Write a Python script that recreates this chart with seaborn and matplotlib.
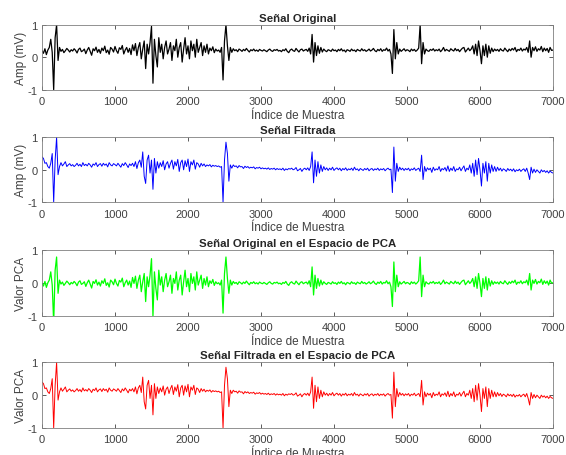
import numpy as np
import pandas as pd
import matplotlib
matplotlib.use("Agg")
import matplotlib.pyplot as plt
import seaborn as sns

# ---- data (one value every 20 samples) ----
sample_step = 20

original = [
    0.2, 0.12, 0.26, 0.08, 0.22, 0.3, 0.55, 0.15, -1.0, 0.6, 1.0,
    -0.1, 0.3, 0.18, 0.24, 0.14, 0.2, 0.27, 0.22, 0.16, 0.23,
    0.19, 0.26, 0.21, 0.13, 0.24, 0.28, 0.17, 0.2, 0.25, 0.11,
    0.22, 0.3, 0.18, 0.06, 0.26, 0.2, 0.31, 0.15, 0.24, 0.12,
    0.28, 0.2, 0.34, 0.14, 0.22, 0.09, 0.3, 0.25, 0.16, 0.33,
    0.2, 0.12, 0.29, 0.24, 0.36, 0.1, 0.22, 0.3, 0.15, 0.27,
    0.08, 0.38, 0.2, 0.42, 0.05, 0.3, 0.45, -0.05, 0.25, 0.5,
    -0.35, 0.4, 0.1, 0.45, 0.95, -0.8, 0.55, 0.05, -0.3, 0.6,
    0.15, 0.4, -0.05, 0.3, 0.5, 0.1, 0.25, 0.45, -0.1, 0.35,
    0.2, 0.55, 0.0, 0.3, 0.45, -0.15, 0.25, 0.6, 0.1, 0.35,
    -0.05, 0.5, 0.2, 0.4, 0.0, 0.55, 0.15, 0.3, 0.45, 0.05,
    0.35, 0.15, 0.4, 0.1, 0.28, 0.2, 0.32, 0.14, 0.25, 0.19,
    0.22, 0.15, 0.3, -0.7, 0.5, 1.0, 0.35, -0.1, 0.3, 0.15,
    0.26, 0.2, 0.23, 0.17, 0.25, 0.22, 0.18, 0.24, 0.2, 0.27,
    0.21, 0.16, 0.23, 0.2, 0.25, 0.19, 0.22, 0.18, 0.24, 0.21,
    0.19, 0.23, 0.2, 0.17, 0.22, 0.25, 0.2, 0.18, 0.23, 0.21,
    0.24, 0.19, 0.21, 0.17, 0.23, 0.2, 0.26, 0.18, 0.14, 0.22,
    0.25, 0.2, 0.18, 0.27, 0.21, 0.16, 0.23, 0.25, 0.19, 0.22,
    0.24, 0.18, 0.28, 0.1, 0.7, -0.15, 0.45, 0.05, 0.35, 0.12,
    0.3, 0.16, 0.25, 0.2, 0.17, 0.23, 0.21, 0.18, 0.25, 0.2,
    0.22, 0.17, 0.24, 0.2, 0.26, 0.19, 0.22, 0.16, 0.23, 0.21,
    0.18, 0.25, 0.2, 0.22, 0.17, 0.24, 0.21, 0.19, 0.26, 0.2,
    0.23, 0.18, 0.21, 0.25, 0.19, 0.22, 0.27, 0.2, 0.17, 0.24,
    0.2, 0.26, 0.18, 0.23, 0.21, 0.28, 0.19, 0.24, 0.1, -0.5,
    0.85, -0.05, 0.45, 0.1, 0.25, 0.18, 0.22, 0.26, 0.19, 0.23,
    0.21, 0.17, 0.25, 0.2, 0.24, 0.18, 0.22, 0.28, 1.0, -0.2,
    0.45, 0.1, 0.25, 0.2, 0.18, 0.24, 0.21, 0.26, 0.19, 0.23,
    0.2, 0.25, 0.17, 0.22, 0.3, 0.19, 0.24, 0.21, 0.18, 0.26,
    0.22, 0.19, 0.27, 0.2, 0.24, 0.17, 0.23, 0.28, 0.3, 0.16,
    0.22, 0.28, 0.2, 0.25, 0.35, 0.1, 0.4, 0.05, 0.5, 0.2,
    -0.2, 0.35, 0.05, 0.4, 0.0, 0.35, 0.12, 0.28, 0.17, 0.25,
    0.2, 0.24, 0.18, 0.26, 0.21, 0.19, 0.28, 0.22, 0.17, 0.25,
    0.2, 0.27, 0.22, 0.3, 0.17, 0.24, 0.21, 0.28, 0.19, 0.25,
    0.22, 0.3, 0.15, 0.5, 0.0, 0.3, 0.2, 0.32, 0.18, 0.26,
    0.22, 0.33, 0.17, 0.28, 0.2, 0.27, 0.15, 0.3, 0.21, 0.22,
]

filtered = [
    0.4, 0.35, 0.2, 0.22, 0.1, 0.05, 0.2, 0.5, -1.0, 0.3, 1.0,
    -0.15, 0.1, 0.22, 0.12, 0.18, 0.25, 0.1, 0.15, 0.19, 0.12,
    0.16, 0.1, 0.14, 0.2, 0.12, 0.17, 0.1, 0.22, 0.13, 0.17,
    0.12, 0.2, 0.15, 0.08, 0.18, 0.14, 0.22, 0.1, 0.16, 0.19,
    0.11, 0.2, 0.14, 0.18, 0.09, 0.22, 0.15, 0.12, 0.19, 0.16,
    0.12, 0.2, 0.14, 0.08, 0.19, 0.13, 0.22, 0.15, 0.07, 0.18,
    0.13, 0.2, 0.1, 0.25, 0.04, 0.22, 0.3, 0.08, 0.55, -0.2,
    -0.42, 0.3, 0.45, -0.1, 0.3, -0.6, 0.35, -0.1, 0.25, 0.05,
    0.22, 0.1, 0.28, 0.0, 0.18, 0.25, 0.05, 0.2, 0.3, 0.02,
    0.25, 0.12, 0.32, -0.05, 0.22, 0.3, 0.0, 0.28, 0.1, 0.33,
    -0.05, 0.25, 0.15, 0.3, 0.02, 0.22, 0.18, 0.08, 0.2, 0.12,
    0.18, 0.1, 0.15, 0.12, 0.16, 0.09, 0.14, 0.11, 0.13, 0.1,
    0.12, 0.08, 0.1, -1.0, 0.3, 0.85, 0.5, -0.35, 0.15, 0.05,
    0.15, 0.1, 0.12, 0.06, 0.13, 0.09, 0.1, 0.04, 0.11, 0.07,
    0.1, 0.05, 0.08, 0.06, 0.09, 0.03, 0.07, 0.05, 0.08, 0.03,
    0.06, 0.03, 0.05, 0.02, 0.06, 0.01, 0.04, 0.02, 0.05, 0.0,
    0.04, 0.01, 0.03, 0.0, 0.05, -0.02, 0.03, 0.0, 0.04, 0.02,
    0.05, 0.0, 0.02, 0.07, -0.03, 0.0, 0.04, -0.05, 0.02, 0.05,
    0.0, 0.06, -0.02, 0.1, 0.55, -0.4, 0.3, -0.2, 0.25, -0.1,
    0.15, -0.05, 0.1, 0.0, 0.06, -0.02, 0.05, 0.0, 0.08, -0.02,
    0.03, 0.06, 0.0, 0.05, -0.03, 0.04, 0.0, 0.06, -0.02, 0.03,
    0.0, 0.05, -0.02, 0.08, 0.0, 0.03, -0.03, 0.04, 0.01, -0.02,
    0.04, 0.0, 0.05, -0.03, 0.02, 0.04, -0.02, 0.03, 0.0, 0.05,
    -0.02, 0.03, 0.0, 0.04, -0.03, 0.02, 0.05, 0.0, 0.02, -0.7,
    0.7, -0.35, 0.2, -0.05, 0.08, 0.0, 0.05, -0.02, 0.04, 0.0,
    0.05, -0.03, 0.03, 0.0, 0.06, -0.02, 0.02, 0.05, -0.05, 0.45,
    -0.3, 0.1, -0.05, 0.06, 0.0, 0.05, -0.08, 0.08, -0.02, 0.03,
    0.0, 0.1, -0.05, 0.04, 0.0, 0.07, -0.04, 0.12, -0.05, 0.05,
    -0.02, 0.1, -0.05, 0.03, 0.0, 0.08, -0.03, 0.05, 0.12, -0.05,
    0.05, 0.0, 0.15, -0.1, 0.2, -0.2, 0.3, -0.15, 0.35, 0.0,
    -0.5, 0.2, -0.1, 0.25, -0.35, 0.2, -0.1, 0.15, -0.05, 0.1,
    -0.05, 0.08, -0.02, 0.05, -0.04, 0.03, 0.0, -0.05, 0.04, -0.02,
    0.02, -0.04, 0.03, -0.06, 0.0, -0.03, 0.02, -0.05, 0.0, 0.03,
    -0.05, 0.05, -0.1, -0.3, 0.08, -0.1, 0.02, -0.08, 0.0, -0.05,
    -0.1, 0.0, -0.06, -0.02, -0.08, -0.03, -0.1, -0.04, -0.08, -0.1,
]

titles = ["Señal Original", "Señal Filtrada",
          "Señal Original en el Espacio de PCA",
          "Señal Filtrada en el Espacio de PCA"]
ylabels = ["Amp (mV)", "Amp (mV)", "Valor PCA", "Valor PCA"]
xlabel = "Índice de Muestra"
colors = ["#000000", "#0000ff", "#00ff00", "#ff0000"]
widths = [0.9, 0.7, 0.9, 0.7]
xticks = [0, 1000, 2000, 3000, 4000, 5000, 6000, 7000]
yticks = [-1, 0, 1]

# PCA projections: centred original, filtered as is
orig_arr = np.array(original)
filt_arr = np.array(filtered)
series = [orig_arr, filt_arr, orig_arr - orig_arr.mean(), filt_arr]

sns.set_theme(style="ticks")
plt.rcParams["font.family"] = ["Liberation Sans", "DejaVu Sans"]

fig = plt.figure(figsize=(5.66, 4.56), dpi=100)
W, H = 566, 456
left, right = 42, 553
tops = [25.7, 138.3, 250.7, 363.3]
bottoms = [90.7, 203.3, 316.7, 429.0]

text_col = "#262626"
for k in range(4):
    ax = fig.add_axes([left / W, 1 - bottoms[k] / H,
                       (right - left) / W, (bottoms[k] - tops[k]) / H])
    y = series[k]
    df = pd.DataFrame({"x": np.arange(len(y)) * sample_step, "y": y})
    sns.lineplot(data=df, x="x", y="y", ax=ax, color=colors[k],
                 linewidth=widths[k], estimator=None, sort=False)
    ax.set_xlim(0, 7000)
    ax.set_ylim(-1, 1)
    ax.set_xticks(xticks)
    ax.set_yticks(yticks)
    ax.set_yticklabels([str(t) for t in yticks])
    ax.set_title(titles[k], fontsize=8.2, fontweight="bold", color=text_col, pad=3)
    ax.set_xlabel(xlabel, fontsize=8.5, color="#404040", labelpad=2)
    ax.set_ylabel(ylabels[k], fontsize=8.5, color="#404040")
    ax.yaxis.set_label_coords(-0.03, 0.5)
    ax.tick_params(axis="x", pad=4.5)
    ax.tick_params(direction="in", top=True, right=True, length=3,
                   width=0.6, labelsize=8, colors="#404040")
    ax.tick_params(axis="y", pad=3)
    for s in ax.spines.values():
        s.set_color("#808080")
        s.set_linewidth(0.6)

fig.savefig("out.png", dpi=100)
